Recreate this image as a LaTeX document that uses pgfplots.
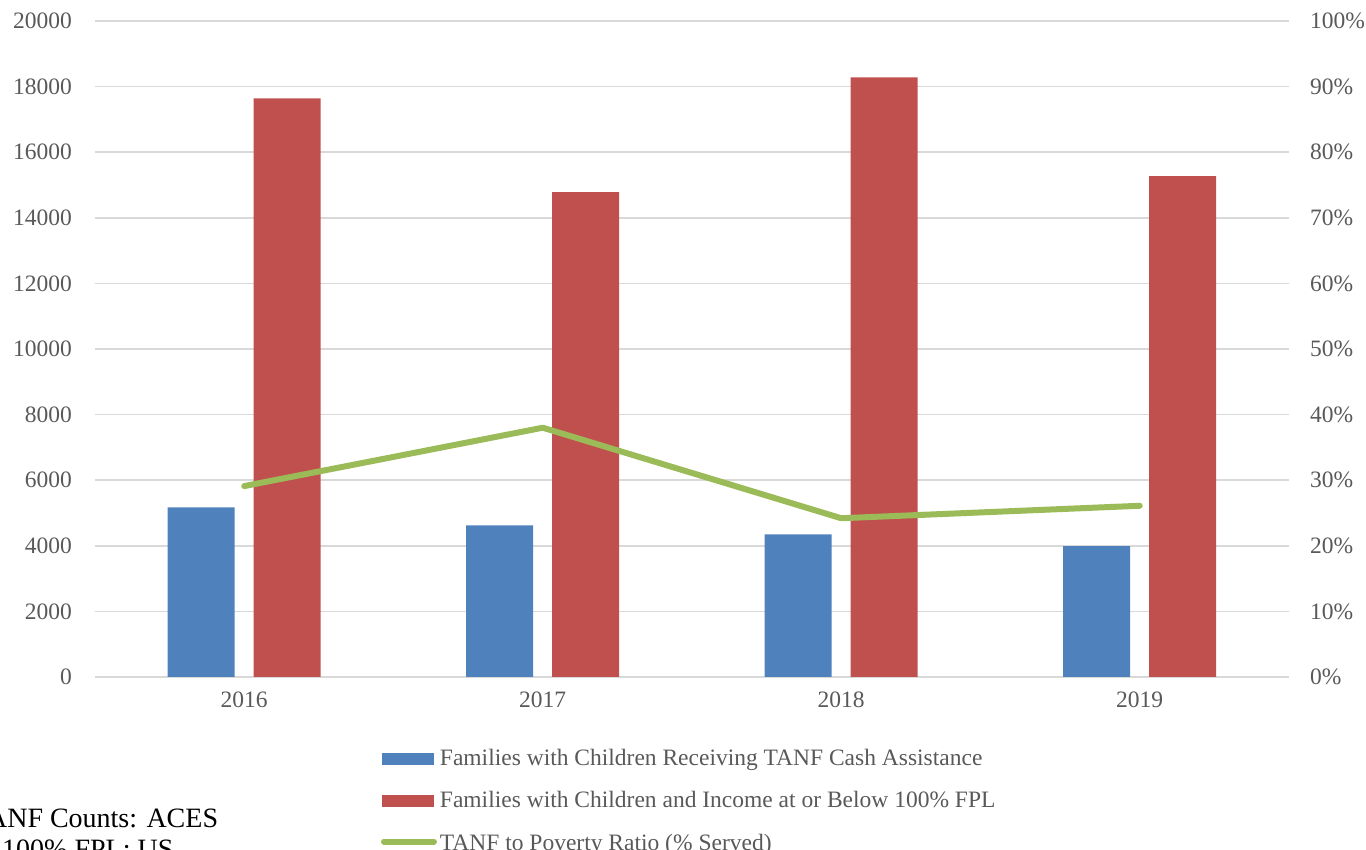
\documentclass[border=0pt]{standalone}
\usepackage{pgfplots}
\pgfplotsset{compat=1.18}
\usepackage{fontspec}
\setmainfont{Liberation Serif}
\definecolor{cblue}{HTML}{4F81BD}
\definecolor{cred}{HTML}{C0504D}
\definecolor{cgreen}{HTML}{9BBB59}
\definecolor{cgrid}{HTML}{D9D9D9}
\definecolor{ctext}{HTML}{595959}
\begin{document}
\begin{tikzpicture}
\begin{axis}[
  at={(95pt,173pt)}, anchor=south west,
  width=1194pt, height=656pt, scale only axis,
  xmin=-0.5, xmax=3.5, ymin=0, ymax=20000,
  xtick={0,1,2,3}, xticklabels={2016,2017,2018,2019},
  ytick={0,2000,...,20000},
  ymajorgrids, grid style={cgrid, line width=1.5pt},
  axis line style={draw=none},
  major tick length=0pt,
  tick label style={font=\fontsize{23.5}{28}\selectfont, text=ctext},
  yticklabel style={inner sep=0pt, anchor=east, xshift=-23pt},
  xticklabel style={inner sep=0pt, anchor=north, yshift=-15pt},
  /pgf/number format/assume math mode=true,
  /pgf/number format/1000 sep={},
  scaled y ticks=false,
  legend style={at={(axis description cs:0.2395,-0.1098)}, anchor=north west,
    draw=none, fill=none, inner sep=0pt, outer sep=0pt,
    font=\fontsize{23.5}{28}\selectfont, text=ctext,
    row sep=21.5pt, column sep=3pt,
    nodes={inner sep=0pt, text height=16pt, text depth=5pt}},
  legend cell align=left,
]
\addplot[ybar, bar width=67pt, bar shift=-43pt, fill=cblue, draw=none,
  legend image code/.code={\fill[cblue] (0pt,-5pt) rectangle (52pt,7pt);}]
  coordinates {(0,5170) (1,4620) (2,4350) (3,3990)};
\addlegendentry{Families with Children Receiving TANF Cash Assistance}
\addplot[ybar, bar width=67pt, bar shift=43pt, fill=cred, draw=none,
  legend image code/.code={\fill[cred] (0pt,-5pt) rectangle (52pt,7pt);}]
  coordinates {(0,17640) (1,14780) (2,18280) (3,15270)};
\addlegendentry{Families with Children and Income at or Below 100\% FPL}
\addlegendimage{legend image code/.code={\draw[cgreen, line width=6pt, line cap=round] (2pt,3pt) -- (52pt,3pt);}}
\addlegendentry{TANF to Poverty Ratio (\% Served)}
\end{axis}
\begin{axis}[
  at={(95pt,173pt)}, anchor=south west,
  width=1194pt, height=656pt, scale only axis,
  xmin=-0.5, xmax=3.5, ymin=0, ymax=100,
  xtick=\empty,
  axis y line*=right, axis x line=none,
  axis line style={draw=none},
  major tick length=0pt,
  ytick={0,10,...,100},
  yticklabel={\pgfmathprintnumber{\tick}\%},
  tick label style={font=\fontsize{23.5}{28}\selectfont, text=ctext},
  yticklabel style={inner sep=0pt, anchor=west, xshift=21pt},
  /pgf/number format/assume math mode=true,
]
\addplot[cgreen, line width=6pt, line cap=round, line join=round]
  coordinates {(0,29.1) (1,38.0) (2,24.2) (3,26.1)};
\end{axis}
\node[anchor=base west, font=\fontsize{28}{30}\selectfont, inner sep=0pt] at (-28pt,22pt) {TANF Counts: ACES};
\node[anchor=base west, font=\fontsize{28}{30}\selectfont, inner sep=0pt] at (2pt,-9pt) {100\% FPL: US};
\pgfresetboundingbox
\useasboundingbox (0,0) rectangle (1366pt,850pt);
\end{tikzpicture}
\end{document}
